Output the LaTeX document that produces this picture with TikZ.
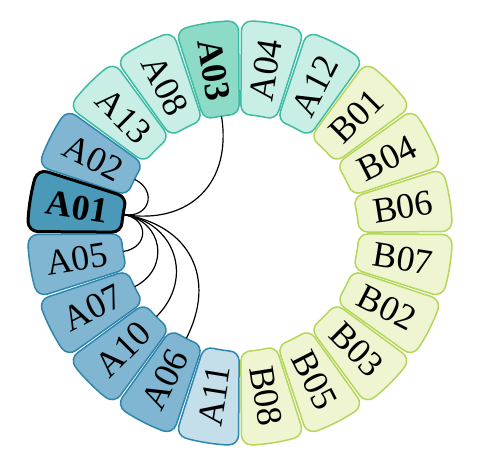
\documentclass[tikz,border=0pt]{standalone}
\usepackage{fontspec}
\setmainfont{Liberation Serif}
\usepackage{tikz}
\usetikzlibrary{calc}

\definecolor{tealfill}{HTML}{C8EEE6}
\definecolor{tealhifill}{HTML}{8DDAC7}
\definecolor{tealline}{HTML}{3CBCA2}
\definecolor{bluefill}{HTML}{80B6D1}
\definecolor{bluesel}{HTML}{4A99B8}
\definecolor{bluelightfill}{HTML}{C4DFEA}
\definecolor{blueline}{HTML}{2E86AE}
\definecolor{greenfill}{HTML}{EEF5D0}
\definecolor{greenline}{HTML}{B4D65A}

\begin{document}
\begin{tikzpicture}[
    seg/.style={rounded corners=5pt, line width=0.75pt},
    tealcell/.style={seg, fill=tealfill, draw=tealline},
    tealhicell/.style={seg, fill=tealhifill, draw=tealline},
    bluecell/.style={seg, fill=bluefill, draw=blueline},
    selcell/.style={seg, fill=bluesel, draw=black, line width=1.5pt},
    bluelightcell/.style={seg, fill=bluelightfill, draw=blueline},
    greencell/.style={seg, fill=greenfill, draw=greenline},
    lab/.style={inner sep=0pt, font=\fontsize{18}{20}\selectfont},
    boldlab/.style={inner sep=0pt, font=\fontsize{18}{20}\selectfont\bfseries},
    link/.style={line width=0.6pt}]
  \useasboundingbox (-120pt,-116pt) rectangle (120pt,116.5pt);
  \coordinate (c) at (0,0);

  \foreach \n/\a/\s/\f in {A03/99/tealhicell/boldlab, A04/81/tealcell/lab,
      A12/63/tealcell/lab, B01/45/greencell/lab, B04/27/greencell/lab,
      B06/9/greencell/lab, B07/-9/greencell/lab, B02/-27/greencell/lab,
      B03/-45/greencell/lab, B05/-63/greencell/lab, B08/-81/greencell/lab,
      A11/-99/bluelightcell/lab, A06/-117/bluecell/lab, A10/-135/bluecell/lab,
      A07/-153/bluecell/lab, A05/-171/bluecell/lab, A02/-207/bluecell/lab,
      A13/-225/tealcell/lab, A08/-243/tealcell/lab, A01/-189/selcell/boldlab} {
    \pgfmathsetmacro\lo{\a-8.6}
    \pgfmathsetmacro\hi{\a+8.6}
    \pgfmathsetmacro\rot{\a>90 ? \a-180 : (\a<-90 ? \a+180 : \a)}
    \draw[\s] (\lo:59pt) arc[start angle=\lo, end angle=\hi, radius=59pt]
      -- (\hi:106pt) arc[start angle=\hi, end angle=\lo, radius=106pt] -- cycle;
    \node[\f, rotate=\rot] (\n) at (\a:82.5pt) {\n};
    \coordinate (\n-in) at (\a:59pt);
  }

  \foreach \t/\k in {A02/0.22, A05/0.22, A07/0.34, A10/0.45, A06/0.57, A03/0.57}
    \draw[link] (A01-in) .. controls ($(A01-in)!\k!(c)$) and ($(\t-in)!\k!(c)$) .. (\t-in);
\end{tikzpicture}
\end{document}
